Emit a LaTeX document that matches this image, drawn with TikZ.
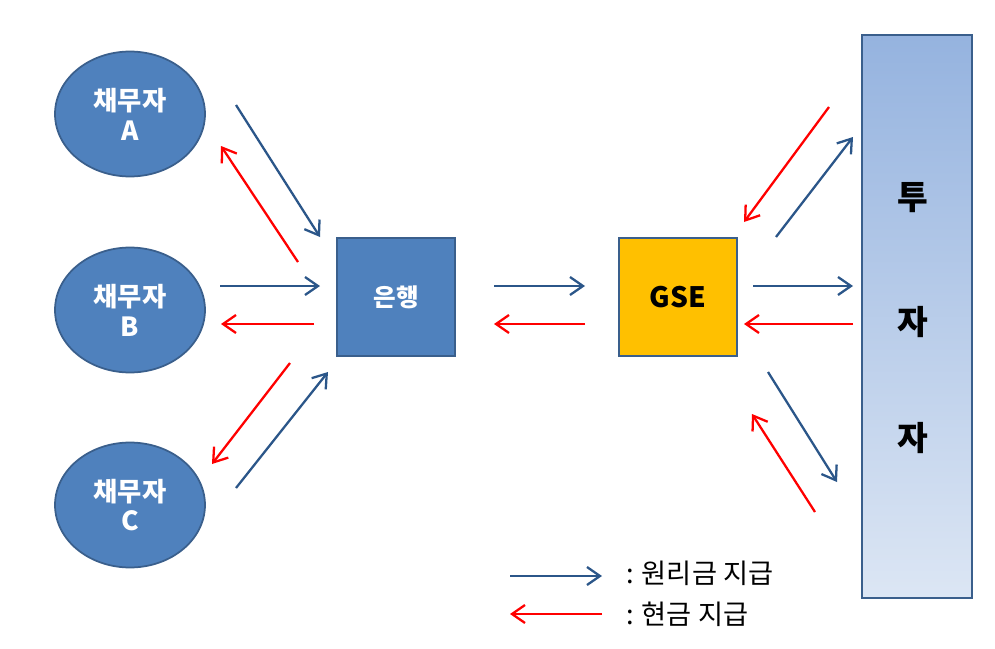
\documentclass[tikz,border=0pt]{standalone}
\usepackage{fontspec}
\setmainfont{Noto Sans CJK KR}
\usetikzlibrary{shapes.geometric,arrows.meta,calc}
\definecolor{nodeblue}{HTML}{4F81BD}
\definecolor{lineblue}{HTML}{3A5F8C}
\definecolor{payblue}{HTML}{2B5689}
\definecolor{cashred}{HTML}{FF0000}
\definecolor{gseyellow}{HTML}{FFC000}
\definecolor{invtop}{HTML}{95B3DF}
\definecolor{invbot}{HTML}{DCE6F4}
\tikzset{
  >={Straight Barb[length=2.6mm,width=3.6mm]},
  flow/.style={->,line width=1.3pt},
}
\begin{document}
\begin{tikzpicture}[
  x=0.02cm,y=-0.02cm,
  debtor/.style={ellipse, draw=lineblue, line width=1pt, fill=nodeblue, minimum width=3cm, minimum height=2.5cm, text=white, align=center, font=\fontsize{15}{17}\selectfont\bfseries},
  bankbox/.style={draw=lineblue, line width=1pt, minimum size=2.36cm, font=\fontsize{14}{17}\selectfont\bfseries},
  pay/.style={flow, payblue},
  cash/.style={flow, cashred}
]
\useasboundingbox (0,0) rectangle (995,649);
\node[debtor] (A) at (130,114) {채무자\\A};
\node[debtor] (B) at (130,310) {채무자\\B};
\node[debtor] (C) at (130,505) {채무자\\C};
\node[bankbox, fill=nodeblue, text=white] (bank) at (396,297) {은행};
\node[bankbox, fill=gseyellow, text=black, font=\fontsize{16}{18}\selectfont\bfseries] (gse) at (678,297) {GSE};
\node[draw=lineblue, line width=1pt, top color=invtop, bottom color=invbot, minimum width=2.2cm, minimum height=11.26cm] (inv) at (917,316.5) {};
\node[font=\fontsize{19}{21}\selectfont\bfseries] (inv1) at (913,198) {투};
\node[font=\fontsize{19}{21}\selectfont\bfseries] (inv2) at (913,322) {자};
\node[font=\fontsize{19}{21}\selectfont\bfseries] (inv3) at (913,438) {자};

\coordinate (a1) at (236,105); \coordinate (a2) at (320,237);
\coordinate (a3) at (298,262); \coordinate (a4) at (221,146);
\coordinate (b1) at (220,286); \coordinate (b2) at (320,286);
\coordinate (b3) at (314,324); \coordinate (b4) at (221,324);
\coordinate (c1) at (290,363); \coordinate (c2) at (212,464);
\coordinate (c3) at (236,488); \coordinate (c4) at (328,372);
\coordinate (g1) at (494,286); \coordinate (g2) at (585,286);
\coordinate (g3) at (585,324); \coordinate (g4) at (494,324);
\coordinate (t1) at (776,237); \coordinate (t2) at (853,137);
\coordinate (t3) at (829,107); \coordinate (t4) at (744,222);
\coordinate (m1) at (753,286); \coordinate (m2) at (853,286);
\coordinate (m3) at (853,324); \coordinate (m4) at (744,324);
\coordinate (d1) at (768,372); \coordinate (d2) at (837,482);
\coordinate (d3) at (815,512); \coordinate (d4) at (752,414);

\draw[pay] (a1) -- (a2);
\draw[cash] (a3) -- (a4);
\draw[pay] (b1) -- (b2);
\draw[cash] (b3) -- (b4);
\draw[cash] (c1) -- (c2);
\draw[pay] (c3) -- (c4);
\draw[pay] (g1) -- (g2);
\draw[cash] (g3) -- (g4);
\draw[pay] (t1) -- (t2);
\draw[cash] (t3) -- (t4);
\draw[pay] (m1) -- (m2);
\draw[cash] (m3) -- (m4);
\draw[pay] (d1) -- (d2);
\draw[cash] (d3) -- (d4);

% legend
\coordinate (l1) at (510,576); \coordinate (l2) at (602,576);
\coordinate (l3) at (602,614); \coordinate (l4) at (510,614);
\draw[pay] (l1) -- (l2);
\draw[cash] (l3) -- (l4);
\node[anchor=west, font=\fontsize{15.5}{17}\selectfont] (paytext) at (620,573) {: 원리금 지급};
\node[anchor=west, font=\fontsize{15.5}{17}\selectfont] (cashtext) at (620,614) {: 현금 지급};
\end{tikzpicture}
\end{document}
